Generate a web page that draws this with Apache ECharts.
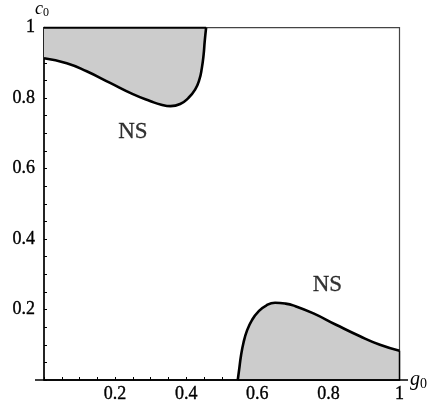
<!DOCTYPE html>
<html>
<head>
<meta charset="utf-8">
<script src="https://cdn.jsdelivr.net/npm/echarts@6/dist/echarts.min.js"></script>
<style>
html,body{margin:0;padding:0;background:#fff;}
#c{width:436px;height:409px;}
</style>
</head>
<body>
<div id="c"></div>
<script>
// Upper-left NS boundary (g0, c0)
const upperG = [0, 0.064, 0.120, 0.186, 0.250, 0.300, 0.330, 0.356, 0.383, 0.406, 0.425, 0.437, 0.444, 0.449, 0.452, 0.456];
const upperC = [0.913, 0.899, 0.876, 0.843, 0.811, 0.791, 0.781, 0.777, 0.783, 0.800, 0.824, 0.852, 0.885, 0.923, 0.960, 1.0];
// Lower-right NS boundary (g0, c0)
const lowerG = [0.545, 0.549, 0.554, 0.561, 0.571, 0.585, 0.603, 0.626, 0.650, 0.678, 0.703, 0.758, 0.823, 0.889, 0.945, 1.0];
const lowerC = [0, 0.030, 0.068, 0.105, 0.140, 0.170, 0.194, 0.212, 0.219, 0.217, 0.211, 0.189, 0.156, 0.124, 0.100, 0.083];
// Region labels
const labelText = ['NS', 'NS'];
const labelG = [0.25, 0.797];
const labelC = [0.703, 0.271];
// Labelled ticks
const tickLabels = ['0.2', '0.4', '0.6', '0.8', '1'];

const upper = upperG.map((g, i) => [g, upperC[i]]);
const lower = lowerG.map((g, i) => [g, lowerC[i]]);
const upperTop = [[0, 1], [upperG[upperG.length - 1], 1]];
const lowerEdge = [[lowerG[0], 0], [1, 0], [1, lowerC[lowerC.length - 1]]];

const FONT = '"Liberation Serif", "Times New Roman", serif';
const fmt = v => { const s = String(+v.toFixed(2)); return tickLabels.indexOf(s) >= 0 ? s : ''; };
const labelStyle = { formatter: fmt, color: '#000', fontFamily: FONT, fontSize: 18, textBorderColor: '#000', textBorderWidth: 0.35, showMinLabel: true, showMaxLabel: true, hideOverlap: false };
const axisCommon = {
  type: 'value', min: 0, max: 1, interval: 0.05,
  axisLine: { show: true, lineStyle: { color: '#000', width: 1.5 } },
  axisTick: { show: true, inside: true, length: 3, lineStyle: { color: '#000', width: 1 } },
  minorTick: { show: false },
  splitLine: { show: false }
};

const chart = echarts.init(document.getElementById('c'), null, { renderer: 'canvas' });
chart.setOption({
  animation: false,
  backgroundColor: '#fff',
  grid: { left: 44, right: 36.5, top: 26, bottom: 29, show: true, borderColor: '#444', borderWidth: 1.2, backgroundColor: 'transparent' },
  xAxis: Object.assign({}, axisCommon, {
    name: '{i|g}{s|0}', nameLocation: 'end', nameGap: 9,
    nameTextStyle: { rich: {
      i: { fontFamily: FONT, fontStyle: 'italic', fontSize: 20, color: '#000' },
      s: { fontFamily: FONT, fontSize: 14, color: '#000', verticalAlign: 'bottom', padding: [8, 0, 0, 0] } } },
    axisLabel: Object.assign({}, labelStyle, { margin: 5, interval: 0 })
  }),
  yAxis: Object.assign({}, axisCommon, {
    name: '{i|c}{s|0}', nameLocation: 'end', nameGap: 6,
    nameTextStyle: { align: 'center', padding: [0, 0, 0, -4], rich: {
      i: { fontFamily: FONT, fontStyle: 'italic', fontSize: 18, color: '#000' },
      s: { fontFamily: FONT, fontSize: 12, color: '#000', padding: [7, 0, 0, 0] } } },
    axisLabel: Object.assign({}, labelStyle, { margin: 9, interval: 0 })
  }),
  graphic: [{ type: 'line', shape: { x1: 35, y1: 380, x2: 408, y2: 380 }, style: { stroke: '#000', lineWidth: 1.5 }, z: 100 }],
  series: [
    { type: 'line', data: upper, smooth: 0.5, showSymbol: false, symbol: 'none',
      lineStyle: { color: '#000', width: 2.6 }, areaStyle: { origin: 'end', color: '#cccccc', opacity: 1 }, z: 3 },
    { type: 'line', data: upperTop, showSymbol: false, symbol: 'none', lineStyle: { color: '#000', width: 2.4 }, z: 4 },
    { type: 'line', data: lower, smooth: 0.5, showSymbol: false, symbol: 'none',
      lineStyle: { color: '#000', width: 2.6 }, areaStyle: { origin: 'start', color: '#cccccc', opacity: 1 }, z: 3 },
    { type: 'line', data: lowerEdge, showSymbol: false, symbol: 'none', lineStyle: { color: '#000', width: 1.5 }, z: 4 },
    { type: 'scatter', data: labelG.map((g, i) => ({ value: [g, labelC[i]], name: labelText[i] })),
      symbolSize: 0, silent: true,
      label: { show: true, position: 'inside', formatter: p => p.name, color: '#000', fontFamily: FONT, fontSize: 23, textBorderColor: '#000', textBorderWidth: 0.3 }, z: 5 }
  ]
});
</script>
</body>
</html>
